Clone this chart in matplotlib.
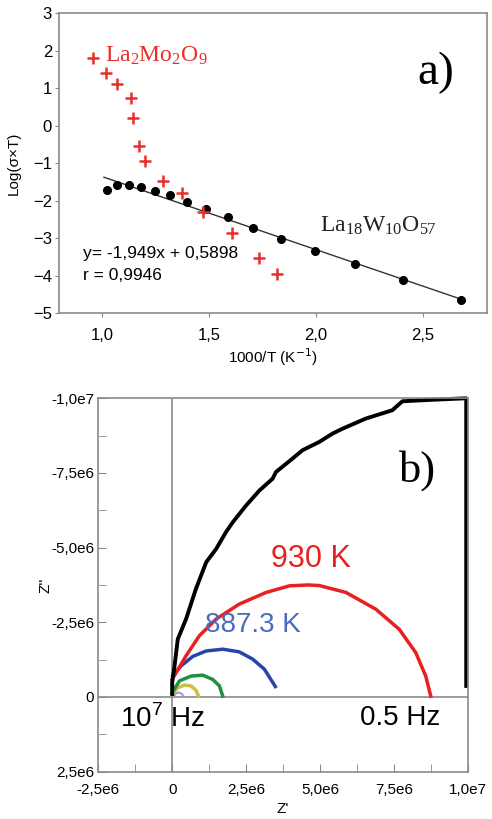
import numpy as np
import matplotlib.pyplot as plt

# ---------------- Painel a) : Log(sigma*T) vs 1000/T ----------------
# La18W10O57 (pontos pretos)
lw_x = [1.026, 1.073, 1.129, 1.183, 1.247, 1.320, 1.398, 1.488, 1.589,
        1.705, 1.839, 1.995, 2.183, 2.406, 2.680]
lw_y = [-1.72, -1.59, -1.59, -1.63, -1.74, -1.85, -2.05, -2.23, -2.45,
        -2.73, -3.03, -3.34, -3.70, -4.12, -4.65]

# La2Mo2O9 (cruzes vermelhas)
lm_x = [0.961, 1.020, 1.073, 1.137, 1.145, 1.176, 1.200, 1.286, 1.375,
        1.473, 1.609, 1.734, 1.817]
lm_y = [1.79, 1.41, 1.12, 0.74, 0.19, -0.54, -0.94, -1.47, -1.81,
        -2.30, -2.86, -3.54, -3.96]

# reta de ajuste: y = -1,949x + 0,5898
ajuste_a = -1.949
ajuste_b = 0.5898
ajuste_x = np.array([1.01, 2.69])

a_xticks = [1.0, 1.5, 2.0, 2.5]
a_xlabels = ['1,0', '1,5', '2,0', '2,5']
a_yticks = [-5, -4, -3, -2, -1, 0, 1, 2, 3]

# ---------------- Painel b) : diagrama de Nyquist ----------------
preto_x = [0.0, 0.0, 0.08e6, 0.19e6, 0.47e6, 0.80e6, 1.15e6, 1.49e6, 1.82e6,
           2.05e6, 2.50e6, 2.95e6, 3.40e6, 3.51e6, 4.07e6, 4.41e6, 4.98e6,
           5.43e6, 5.76e6, 6.55e6, 7.45e6, 7.79e6, 8.8e6, 9.95e6, 9.95e6]
preto_y = [-0.1e6, -0.49e6, -1.04e6, -1.94e6, -2.61e6, -3.61e6, -4.51e6,
           -4.96e6, -5.52e6, -5.85e6, -6.41e6, -6.91e6, -7.31e6, -7.53e6,
           -7.98e6, -8.26e6, -8.54e6, -8.82e6, -8.98e6, -9.32e6, -9.60e6,
           -9.90e6, -9.95e6, -1.0e7, -0.37e6]

verm_x = [0.0, 0.47e6, 0.92e6, 1.49e6, 2.27e6, 3.18e6, 3.96e6, 4.60e6,
          4.98e6, 5.88e6, 6.89e6, 7.68e6, 8.24e6, 8.58e6, 8.75e6]
verm_y = [-0.59e6, -1.38e6, -2.05e6, -2.61e6, -3.11e6, -3.50e6, -3.72e6,
          -3.75e6, -3.73e6, -3.50e6, -2.94e6, -2.27e6, -1.49e6, -0.70e6,
          -0.03e6]

azul_x = [0.02e6, 0.30e6, 0.70e6, 1.15e6, 1.71e6, 2.27e6, 2.72e6, 3.12e6,
          3.49e6]
azul_y = [-0.70e6, -1.04e6, -1.36e6, -1.54e6, -1.60e6, -1.51e6, -1.27e6,
          -0.93e6, -0.35e6]

verde_x = [0.0, 0.25e6, 0.64e6, 1.03e6, 1.37e6, 1.60e6, 1.71e6]
verde_y = [-0.15e6, -0.54e6, -0.70e6, -0.73e6, -0.59e6, -0.37e6, -0.03e6]

amarelo_x = [0.0, 0.19e6, 0.42e6, 0.64e6, 0.81e6, 0.89e6]
amarelo_y = [-0.09e6, -0.31e6, -0.40e6, -0.37e6, -0.22e6, -0.03e6]

roxo_x = [0.05e6, 0.12e6, 0.25e6, 0.35e6, 0.38e6]
roxo_y = [0.0, -0.12e6, -0.15e6, -0.08e6, 0.0]

b_xticks = [-2.5e6, 0, 2.5e6, 5.0e6, 7.5e6, 1.0e7]
b_xlabels = ['-2,5e6', '0', '2,5e6', '5,0e6', '7,5e6', '1,0e7']
b_yticks = [-1.0e7, -7.5e6, -5.0e6, -2.5e6, 0, 2.5e6]
b_ylabels = ['-1,0e7', '-7,5e6', '-5,0e6', '-2,5e6', '0', '2,5e6']

cinza = '#8a8a8a'
vermelho = '#e8302a'

fig = plt.figure(figsize=(4.92, 8.19), dpi=100)
plt.rcParams['font.family'] = ['Liberation Sans', 'DejaVu Sans']

# ---- painel a ----
ax1 = fig.add_axes([0.1199, 0.6178, 0.870, 0.3663])
ax1.plot(ajuste_x, ajuste_a * ajuste_x + ajuste_b, color='#333333', lw=1)
ax1.plot(lw_x, lw_y, 'o', color='black', ms=5.5)
ax1.plot(lm_x, lm_y, '+', color=vermelho, ms=8, mew=1.8)
ax1.set_xlim(0.8, 2.8)
ax1.set_ylim(-5, 3)
ax1.set_xticks(a_xticks)
ax1.set_xticklabels(a_xlabels)
ax1.set_yticks(a_yticks)
ax1.tick_params(labelsize=12, length=3, color=cinza)
ax1.tick_params(axis='x', pad=8)
ax1.tick_params(axis='y', pad=2)
for s in ax1.spines.values():
    s.set_color(cinza)
    s.set_linewidth(1.2)
ax1.set_xlabel('1000/T (K$^{-1}$)', fontsize=11)
ax1.xaxis.set_label_coords(0.5, -0.112)
ax1.set_ylabel('Log(σ×T)', fontsize=11)
ax1.yaxis.set_label_coords(-0.089, 0.5)

ax1.text(1.016, 1.85, r'$\mathregular{La_2Mo_2O_9}$', color=vermelho,
         family='Liberation Serif', fontsize=17, va='center')
ax1.text(2.02, -2.68, r'$\mathregular{La_{18}W_{10}O_{57}}$', color='#222222',
         family='Liberation Serif', fontsize=17, va='center')
ax1.text(0.912, -3.41, 'y= -1,949x + 0,5898', fontsize=12.5, va='center')
ax1.text(0.912, -3.99, 'r = 0,9946', fontsize=12.5, va='center')
ax1.text(2.56, 1.40, 'a)', family='Liberation Serif', fontsize=34,
         ha='center', va='center')

# ---- painel b ----
ax2 = fig.add_axes([0.1998, 0.0578, 0.7508, 0.4559])
ax2.axhline(0, color=cinza, lw=1.2, zorder=1)
ax2.axvline(0, color=cinza, lw=1.2, zorder=1)
ax2.plot(roxo_x, roxo_y, color='#a898d8', lw=1.5)
ax2.plot(amarelo_x, amarelo_y, color='#c8c040', lw=2.5)
ax2.plot(verde_x, verde_y, color='#1f9040', lw=2.5)
ax2.plot(azul_x, azul_y, color='#2844a8', lw=2.5)
ax2.plot(verm_x, verm_y, color='#e82020', lw=2.5)
ax2.plot(preto_x, preto_y, color='black', lw=2.8, clip_on=False)
ax2.set_xlim(-2.5e6, 1.0e7)
ax2.set_ylim(2.5e6, -1.0e7)
ax2.set_xticks(b_xticks)
ax2.set_xticklabels(b_xlabels)
ax2.set_yticks(b_yticks)
ax2.set_yticklabels(b_ylabels)
ax2.set_xticks(np.arange(-1.25e6, 1.0e7, 2.5e6), minor=True)
ax2.set_yticks(np.arange(-8.75e6, 2.5e6, 2.5e6), minor=True)
ax2.tick_params(which='both', direction='in', length=6, color=cinza,
                labelsize=11)
ax2.tick_params(axis='x', pad=8)
ax2.tick_params(axis='y', pad=3)
for s in ax2.spines.values():
    s.set_color(cinza)
    s.set_linewidth(1.2)
ax2.set_xlabel("Z'", fontsize=11)
ax2.xaxis.set_label_coords(0.5, -0.082)
ax2.set_ylabel("Z''", fontsize=11)
ax2.yaxis.set_label_coords(-0.125, 0.5)

ax2.text(4.70e6, -4.62e6, '930 K', color='#e82020', fontsize=22,
         ha='center', va='center')
ax2.text(2.72e6, -2.40e6, '887.3 K', color='#4a6cc0', fontsize=20,
         ha='center', va='center')
ax2.text(-0.32e6, 0.72e6, r'10$^{\mathregular{7}}$ Hz', fontsize=20,
         ha='center', va='center')
ax2.text(7.7e6, 0.72e6, '0.5 Hz', fontsize=20, ha='center', va='center')
ax2.text(8.3e6, -7.57e6, 'b)', family='Liberation Serif', fontsize=32,
         ha='center', va='center')

fig.savefig('out.png', dpi=100)
